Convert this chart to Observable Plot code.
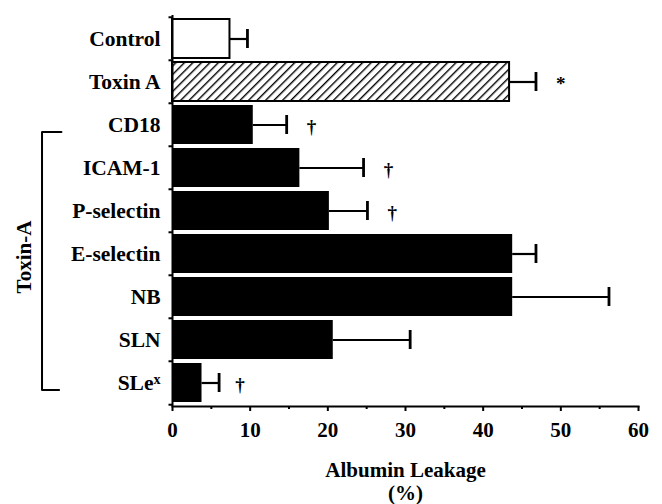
<!DOCTYPE html>
<html>
<head>
<meta charset="utf-8">
<script src="https://cdn.jsdelivr.net/npm/d3@7"></script>
<script src="https://cdn.jsdelivr.net/npm/@observablehq/plot@0.6"></script>
<style>
  html, body { margin: 0; padding: 0; background: white; }
</style>
</head>
<body>
<svg width="0" height="0" style="position:absolute">
  <defs>
    <pattern id="hatch" patternUnits="userSpaceOnUse" width="6" height="6" patternTransform="rotate(45)">
      <rect width="6" height="6" fill="white"></rect>
      <line x1="0" y1="0" x2="0" y2="6" stroke="black" stroke-width="2.8"></line>
    </pattern>
  </defs>
</svg>
<div id="chart"></div>
<script>
// ---- data ----
const categories = ["Control", "Toxin A", "CD18", "ICAM-1", "P-selectin", "E-selectin", "NB", "SLN", "SLex"];
const means      = [7.4, 43.4, 10.4, 16.4, 20.2, 43.8, 43.8, 20.7, 3.8];
const errors     = [2.25, 3.4, 4.3, 8.2, 4.9, 3.0, 12.4, 9.9, 2.2];
const xTicks     = [0, 10, 20, 30, 40, 50, 60];
const xMinorTicks = [5, 15, 25, 35, 45, 55];
const sigCategories = ["Toxin A", "CD18", "ICAM-1", "P-selectin", "SLex"];
const sigSymbols    = ["*", "†", "†", "†", "†"];
const sigX          = [50, 17.9, 27.8, 28.3, 8.7];
const groupLabel = "Toxin-A";
const groupFirst = "CD18";
const groupLast = "SLex";
const xLabel = "Albumin Leakage\n(%)";

const data = categories.map((c, i) => ({cat: c, mean: means[i], err: errors[i]}));
const sig = sigCategories.map((c, i) => ({cat: c, sym: sigSymbols[i], x: sigX[i]}));

const step = (406 - 15) / categories.length;
const font = "'Liberation Serif', 'Times New Roman', Times, serif";

const bracket = [
  {x: -14.3, y: groupFirst},
  {x: -16.8, y: groupFirst},
  {x: -16.8, y: groupLast},
  {x: -14.6, y: groupLast}
];

const chart = Plot.plot({
  width: 662,
  height: 504,
  marginTop: 15,
  marginBottom: 98,
  marginLeft: 172,
  marginRight: 24,
  style: {fontFamily: font, fontWeight: "bold", fontSize: "21px", background: "white", color: "black"},
  x: {domain: [0, 60]},
  y: {domain: categories, paddingInner: 0.1, paddingOuter: 0.05},
  marks: [
    Plot.barX(data, {filter: d => d.cat === "Control", x: "mean", y: "cat", fill: "white", stroke: "black", strokeWidth: 2}),
    Plot.barX(data, {filter: d => d.cat === "Toxin A", x: "mean", y: "cat", fill: "url(#hatch)", stroke: "black", strokeWidth: 2}),
    Plot.barX(data, {filter: d => d.cat !== "Control" && d.cat !== "Toxin A", x: "mean", y: "cat", fill: "black"}),
    Plot.ruleY(data, {y: "cat", x1: "mean", x2: d => d.mean + d.err, stroke: "black", strokeWidth: 2.2}),
    Plot.tickX(data, {x: d => d.mean + d.err, y: "cat", stroke: "black", strokeWidth: 2.8, insetTop: 10, insetBottom: 10}),
    Plot.text(sig, {x: "x", y: "cat", text: "sym", fontSize: 19, fontWeight: "bold", dy: 2}),
    Plot.ruleX([0], {stroke: "black", strokeWidth: 2}),
    Plot.frame({anchor: "bottom", stroke: "black", strokeWidth: 2}),
    Plot.ruleY(categories, {y: d => d, x1: -0.45, x2: 0, dy: -step / 2, stroke: "black", strokeWidth: 2}),
    Plot.ruleY([groupLast], {y: d => d, x1: -0.45, x2: 0, dy: step / 2, stroke: "black", strokeWidth: 2}),
    Plot.axisX(xTicks, {tickSize: 5, tickPadding: 11, fontSize: 21, fontWeight: "bold", label: null, strokeWidth: 2}),
    Plot.axisX(xMinorTicks, {tickSize: 3, tickFormat: () => "", label: null, strokeWidth: 2}),
    Plot.axisY({tickSize: 0, tickPadding: 12, fontSize: 21.5, fontWeight: "bold", label: null}),
    Plot.line(bracket, {x: "x", y: "y", stroke: "black", strokeWidth: 2, dy: 7}),
    Plot.text([groupLabel], {x: () => -19.1, y: () => "E-selectin", text: d => d, rotate: -90, fontSize: 21, fontWeight: "bold", dy: 3}),
    Plot.text([xLabel], {frameAnchor: "bottom", lineAnchor: "top", dy: 54, text: d => d, fontSize: 21, fontWeight: "bold", lineHeight: 1.1})
  ]
});

// superscript x in "SLex"
d3.select(chart).selectAll("text").each(function() {
  const t = d3.select(this);
  if (t.text() === "SLex" && this.childElementCount === 0) {
    t.text("SLe");
    t.append("tspan").attr("font-size", 14).attr("dy", "-0.45em").text("x");
  }
});

document.getElementById("chart").appendChild(chart);
</script>
</body>
</html>
